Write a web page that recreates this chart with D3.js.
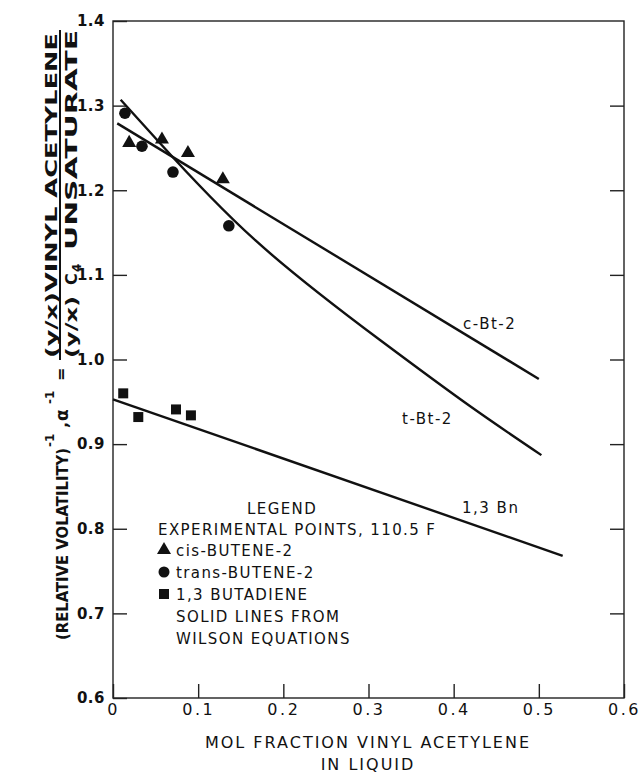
<!DOCTYPE html>
<html><head><meta charset="utf-8">
<script src="https://cdn.jsdelivr.net/npm/d3@7"></script>
<style>body{margin:0;background:#fff}svg text{font-family:"DejaVu Sans",sans-serif;fill:#111}</style>
</head><body>
<svg id="c" width="643" height="776"></svg>
<script>
// ---- data ----
const xTicks=[0,0.1,0.2,0.3,0.4,0.5,0.6];
const yTicks=[0.6,0.7,0.8,0.9,1.0,1.1,1.2,1.3,1.4];
const cisX=[0.019,0.0575,0.088,0.129];
const cisY=[1.256,1.260,1.244,1.213];
const transX=[0.014,0.034,0.0704,0.136];
const transY=[1.291,1.252,1.2215,1.158];
const butX=[0.012,0.0297,0.074,0.0915];
const butY=[0.960,0.932,0.941,0.934];
const cLineX=[0.005,0.5], cLineY=[1.279,0.977];
const tLineX=[0.009,0.0513,0.167,0.3135,0.419,0.503];
const tLineY=[1.307,1.260,1.141,1.023,0.945,0.887];
const bLineX=[0,0.528], bLineY=[0.953,0.768];
const lineLabels=["c-Bt-2","t-Bt-2","1,3 Bn"];
const legendLines=["LEGEND","EXPERIMENTAL POINTS, 110.5 F","cis-BUTENE-2","trans-BUTENE-2","1,3  BUTADIENE","SOLID LINES FROM","WILSON EQUATIONS"];

const svg=d3.select("#c");
const L=113,R=624,T=21,B=698;
const x=d3.scaleLinear().domain([0,0.6]).range([L,R]);
const y=d3.scaleLinear().domain([0.6,1.4]).range([B,T]);
const ink="#111";

// frame
svg.append("rect").attr("x",L).attr("y",T).attr("width",R-L).attr("height",B-T)
  .attr("fill","none").attr("stroke","#222").attr("stroke-width",1.4);

// axes
const fmtY=d=>d.toFixed(1);
const fmtX=d=>d===0?"0":d.toFixed(1);
const ay=svg.append("g").attr("transform",`translate(${L},0)`)
  .call(d3.axisLeft(y).tickValues(yTicks).tickFormat(fmtY).tickSizeInner(-14).tickSizeOuter(0).tickPadding(8));
const ay2=svg.append("g").attr("transform",`translate(${R},0)`)
  .call(d3.axisRight(y).tickValues(yTicks.slice(1,-1)).tickFormat("").tickSizeInner(-14).tickSizeOuter(0));
const ax=svg.append("g").attr("transform",`translate(0,${B})`)
  .call(d3.axisBottom(x).tickValues(xTicks).tickFormat(fmtX).tickSizeInner(-14).tickSizeOuter(0).tickPadding(6));
[ay,ay2,ax].forEach(g=>{g.select(".domain").remove();g.selectAll("line").attr("stroke","#222").attr("stroke-width",1.4);});
ay.selectAll("text").attr("font-size",15).attr("font-weight","bold").attr("letter-spacing",0.5).attr("fill",ink);
ax.selectAll("text").attr("font-size",16).attr("letter-spacing",2.5).attr("fill",ink);

// curves
const zip=(a,b)=>a.map((v,i)=>[v,b[i]]);
const straight=d3.line().x(d=>x(d[0])).y(d=>y(d[1]));
const smooth=d3.line().x(d=>x(d[0])).y(d=>y(d[1])).curve(d3.curveNatural);
svg.append("path").attr("d",straight(zip(cLineX,cLineY))).attr("fill","none").attr("stroke",ink).attr("stroke-width",2.4);
svg.append("path").attr("d",smooth(zip(tLineX,tLineY))).attr("fill","none").attr("stroke",ink).attr("stroke-width",2.4);
svg.append("path").attr("d",straight(zip(bLineX,bLineY))).attr("fill","none").attr("stroke",ink).attr("stroke-width",2.4);

// markers
const tri=d3.symbol().type(d3.symbolTriangle).size(85);
const sq=d3.symbol().type(d3.symbolSquare).size(100);
svg.selectAll(".cis").data(zip(cisX,cisY)).join("path").attr("d",tri).attr("fill",ink)
  .attr("transform",d=>`translate(${x(d[0])},${y(d[1])})`);
svg.selectAll(".tr").data(zip(transX,transY)).join("circle").attr("r",5.8).attr("fill",ink)
  .attr("cx",d=>x(d[0])).attr("cy",d=>y(d[1]));
svg.selectAll(".bu").data(zip(butX,butY)).join("path").attr("d",sq).attr("fill",ink)
  .attr("transform",d=>`translate(${x(d[0])},${y(d[1])})`);

// line labels
const lab=(t,px,py)=>svg.append("text").text(t).attr("x",px).attr("y",py).attr("font-size",15).attr("letter-spacing",1.5);
lab(lineLabels[0],463,329);
lab(lineLabels[1],402,424);
lab(lineLabels[2],462,513);

// legend
const lg=[[247,514],[158,535],[176,556],[176,578],[176,600],[176,622],[176,644]];
legendLines.forEach((t,i)=>svg.append("text").text(t).attr("x",lg[i][0]).attr("y",lg[i][1]).attr("font-size",15).attr("letter-spacing",1.4));
svg.append("path").attr("d",tri).attr("fill",ink).attr("transform","translate(164,550)");
svg.append("circle").attr("cx",164).attr("cy",572).attr("r",5.5).attr("fill",ink);
svg.append("path").attr("d",sq).attr("fill",ink).attr("transform","translate(164,594)");

// x title
svg.append("text").text("MOL FRACTION VINYL ACETYLENE").attr("x",368).attr("y",748).attr("text-anchor","middle").attr("font-size",16).attr("letter-spacing",2);
svg.append("text").text("IN LIQUID").attr("x",368).attr("y",770).attr("text-anchor","middle").attr("font-size",16).attr("letter-spacing",2);

// y title (rotated)
const g=svg.append("g").attr("transform","rotate(-90)");
const yt=(t,gy,gx,fs,anchor,extra)=>{const e=g.append("text").text(t).attr("x",-gy).attr("y",gx).attr("font-size",fs).attr("font-weight","bold").attr("text-anchor",anchor||"start");if(extra)extra(e);return e;};
yt("(RELATIVE VOLATILITY)",640,68,16,"start",e=>e.attr("textLength",192).attr("lengthAdjust","spacingAndGlyphs"));
yt("-1",447,54,12,"start");
yt(",",428,68,16,"start");
yt("\u03b1",421,68,17,"start");
yt("-1",404,54,12,"start");
yt("=",381,66,16,"start");
yt("(y/x)VINYL ACETYLENE",358,57,16,"start",e=>e.attr("textLength",325).attr("lengthAdjust","spacingAndGlyphs"));
g.append("line").attr("x1",-360).attr("x2",-30).attr("y1",60).attr("y2",60).attr("stroke",ink).attr("stroke-width",2);
yt("(y/x)",358,77,16,"start",e=>e.attr("textLength",62).attr("lengthAdjust","spacingAndGlyphs"));
yt("C",285,77,16,"start");
yt("4",272,81,12,"start");
yt("UNSATURATE",250,77,16,"start",e=>e.attr("textLength",220).attr("lengthAdjust","spacingAndGlyphs"));
</script></body></html>
